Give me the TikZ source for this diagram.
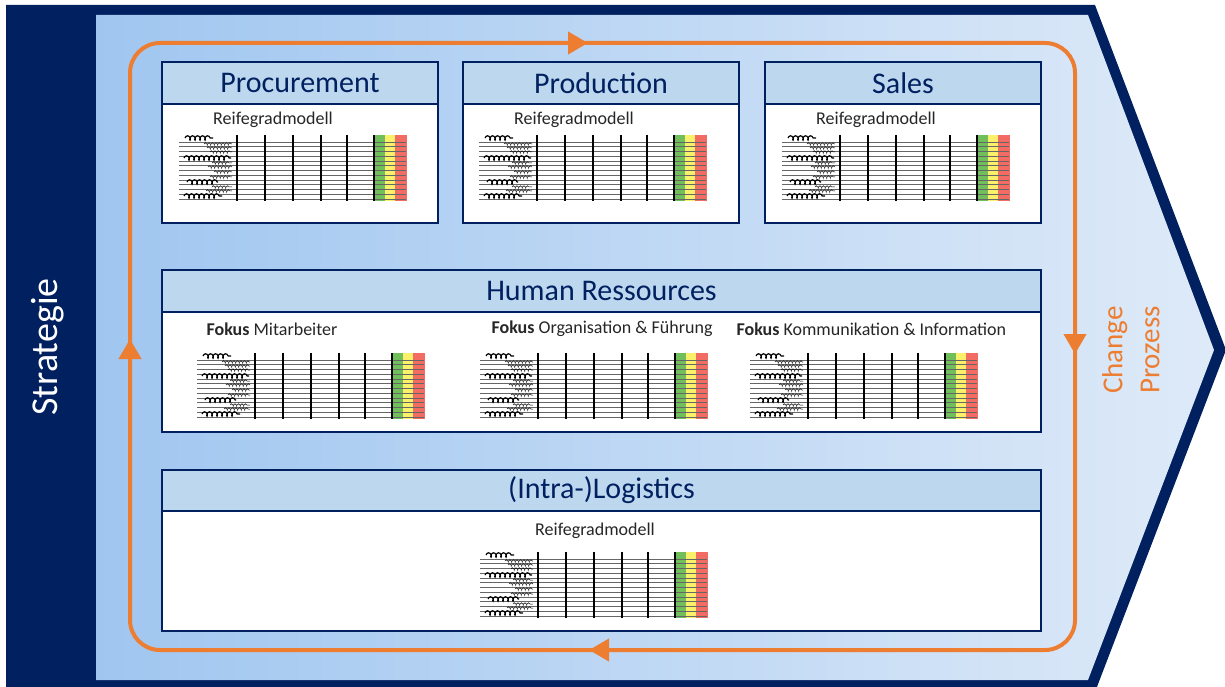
\documentclass[tikz,border=0pt]{standalone}
\usepackage{fontspec}
\setmainfont{Carlito}
\usetikzlibrary{arrows.meta, positioning, decorations.pathmorphing}

\definecolor{navy}{RGB}{0,32,96}
\definecolor{headblue}{RGB}{189,215,238}
\definecolor{changeorange}{RGB}{237,125,49}
\definecolor{bgleft}{RGB}{160,198,240}
\definecolor{bgright}{RGB}{222,234,248}
\definecolor{rgreen}{RGB}{112,191,90}
\definecolor{ryellow}{RGB}{250,240,105}
\definecolor{rred}{RGB}{243,108,100}

\begin{document}
\begin{tikzpicture}[x=1pt, y=-1pt,
    box/.style={draw=navy, line width=2pt, fill=white, inner sep=0pt, anchor=north west},
    head/.style={draw=navy, line width=2pt, fill=headblue, inner sep=0pt, anchor=north west,
      text=navy, font=\fontsize{30}{36}\selectfont},
    modtext/.style={text=black!85, font=\fontsize{18}{22}\selectfont},
    scribble/.style={decorate, decoration={coil, aspect=0.6, segment length=5pt, amplitude=2.2pt}, line width=1.2pt},
    smallscribble/.style={decorate, decoration={coil, aspect=0.5, segment length=3.5pt, amplitude=1.2pt}, line width=0.5pt},
    ring/.style={draw=changeorange, line width=4pt},
    ringarrow/.style={changeorange, line width=4pt, -{Triangle[length=20pt,width=22pt]}},
    reife/.pic={
      \fill[rgreen] (192,0) rectangle (203,66);
      \fill[ryellow] (203,0) rectangle (213,66);
      \fill[rred] (213,0) rectangle (225,66);
      \foreach \r in {0,...,12}
        \draw[black!60, line width=0.6pt] (-3,7+4.75*\r) -- (224,7+4.75*\r);
      \foreach \c in {55,83,111,139,165,192}
        \draw[black, line width=1.1pt] (\c,0) -- (\c,66);
      % handwriting
      \draw[scribble] (3,3) -- (31,3);
      \draw[scribble] (2,23) -- (49,23);
      \draw[scribble] (5,47) -- (36,47);
      \draw[scribble] (2,61) -- (40,61);
      \foreach \h/\a in {9/22,13/25,17/28,28/30,32/26,37/32,42/28,52/30,56/24}
        \draw[smallscribble] (\a,\h) -- (50,\h);
    }
  ]
    \useasboundingbox (0,0) rectangle (1225,687);

    % chevron
    \fill[navy] (6,5) -- (1095,5) -- (1226,350) -- (1095,692) -- (6,692) -- cycle;
    \shade[left color=bgleft, right color=bgright]
      (96,15) -- (1088,15) -- (1214,350) -- (1088,680) -- (96,680) -- cycle;
    \node (strat) [text=white, rotate=90, font=\fontsize{38}{44}\selectfont] at (48,347) {Strategie};

    % change loop
    \draw [ring, rounded corners=30pt] (130,43) rectangle (1075,650);
    \draw [ringarrow] (560,43) -- (588,43);
    \draw [ringarrow] (1075,330) -- (1075,354);
    \draw [ringarrow] (614,650) -- (589,650);
    \draw [ringarrow] (130,362) -- (130,339);
    \node (chg) [text=changeorange, rotate=90, align=center, font=\fontsize{29}{37}\selectfont]
      at (1131,350) {Change\\Prozess};

    % top row
    \node (proc) [box, minimum width=276pt, minimum height=161pt] at (161,61) {};
    \node (proch) [head, minimum width=276pt, minimum height=42pt] at (161,61) {Procurement};
    \node (procm) [modtext] at (273,120) {Reifegradmodell};
    \pic at (182,135) {reife};

    \node (prod) [box, minimum width=276pt, minimum height=161pt] at (462,61) {};
    \node (prodh) [head, minimum width=276pt, minimum height=42pt] at (462,61) {Production};
    \node (prodm) [modtext] at (574,120) {Reifegradmodell};
    \pic at (482,135) {reife};

    \node (sales) [box, minimum width=276pt, minimum height=161pt] at (764,61) {};
    \node (salesh) [head, minimum width=276pt, minimum height=42pt] at (764,61) {Sales};
    \node (salesm) [modtext] at (876,120) {Reifegradmodell};
    \pic at (785,135) {reife};

    % human ressources
    \node (hr) [box, minimum width=879pt, minimum height=162pt] at (161,269) {};
    \node (hrh) [head, minimum width=879pt, minimum height=42pt] at (161,269) {Human Ressources};
    \node (hrma) [modtext, anchor=west] at (203,329) {\textbf{Fokus} Mitarbeiter};
    \pic at (200,353) {reife};
    \node (hrorg) [modtext, anchor=west] at (488,329) {\textbf{Fokus} Organisation \& Führung};
    \pic at (483,353) {reife};
    \node (hrkom) [modtext, anchor=west] at (733,329) {\textbf{Fokus} Kommunikation \& Information};
    \pic at (753,353) {reife};

    % logistics
    \node (log) [box, minimum width=879pt, minimum height=161pt] at (161,469) {};
    \node (logh) [head, minimum width=879pt, minimum height=41pt] at (161,469) {(Intra-)Logistics};
    \node (logm) [modtext] at (595,531) {Reifegradmodell};
    \pic at (483,552) {reife};
\end{tikzpicture}
\end{document}
